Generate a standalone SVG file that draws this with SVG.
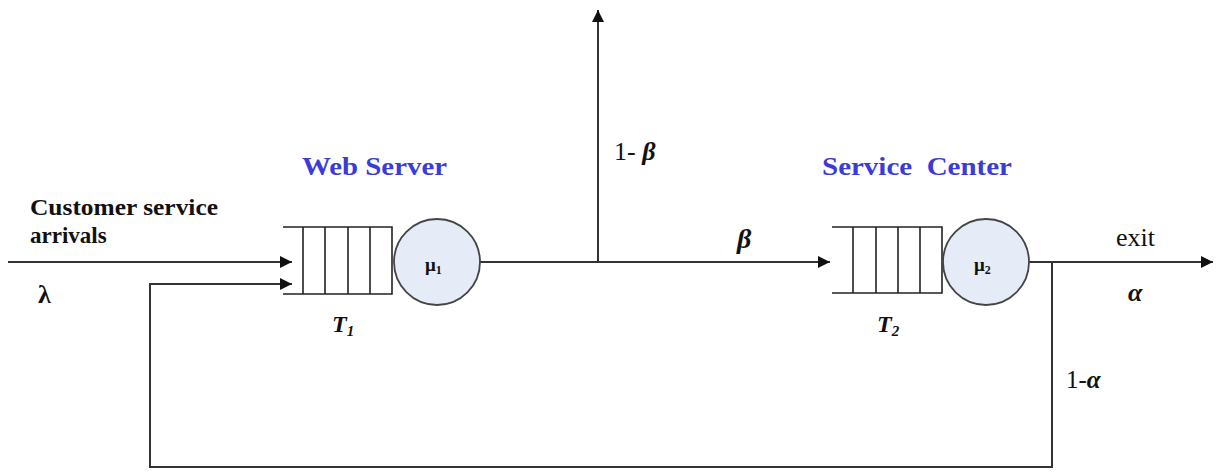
<svg xmlns="http://www.w3.org/2000/svg" width="1225" height="475" viewBox="0 0 1225 475">
<style>
.ln{stroke:#333;stroke-width:2;fill:none}
.q{stroke:#222;stroke-width:1.6;fill:none}
.srv{fill:#e6ecf7;stroke:#444;stroke-width:1.8}
.t{fill:#111;font-family:'Liberation Serif','DejaVu Serif',serif}
.b{font-weight:bold}
.blue{fill:#3b3bd8;font-weight:bold;font-family:'Liberation Serif','DejaVu Serif',serif}
.g{font-style:italic;font-weight:bold}
</style>
<defs>
<marker id="ah" viewBox="0 0 10 10" refX="10" refY="5" markerWidth="12" markerHeight="12" markerUnits="userSpaceOnUse" orient="auto">
<path d="M0,0 L10,5 L0,10 Z" fill="#111"/>
</marker>
</defs>
<rect width="1225" height="475" fill="#fff"/>
<g id="connectors">
<line class="ln" x1="8" y1="262" x2="292" y2="262" marker-end="url(#ah)"/>
<polyline class="ln" points="1052,262 1052,467 150,467 150,284 292,284" marker-end="url(#ah)"/>
<line class="ln" x1="480" y1="262" x2="830" y2="262" marker-end="url(#ah)"/>
<line class="ln" x1="598" y1="262" x2="598" y2="10" marker-end="url(#ah)"/>
<line class="ln" x1="1029" y1="262" x2="1213" y2="262" marker-end="url(#ah)"/>
</g>
<g id="webserver">
<path class="q" d="M283,227 H392 V294 H283 M303,227 V294 M325,227 V294 M348,227 V294 M370,227 V294"/>
<circle class="srv" cx="437" cy="262" r="43"/>
<text class="t b" x="425" y="271" font-size="19">μ<tspan font-size="12" dy="3">1</tspan></text>
<text class="blue" x="302" y="175" font-size="25" textLength="145" lengthAdjust="spacingAndGlyphs">Web Server</text>
<text class="t g" x="332" y="332" font-size="24">T<tspan font-size="15" dy="4">1</tspan></text>
</g>
<g id="servicecenter">
<path class="q" d="M832,227 H942 V293 H832 M853,227 V293 M876,227 V293 M898,227 V293 M920,227 V293"/>
<circle class="srv" cx="986" cy="262" r="43"/>
<text class="t b" x="974" y="271" font-size="19">μ<tspan font-size="12" dy="3">2</tspan></text>
<text class="blue" x="822" y="175" font-size="25" xml:space="preserve" textLength="190" lengthAdjust="spacingAndGlyphs">Service  Center</text>
<text class="t g" x="877" y="332" font-size="24">T<tspan font-size="15" dy="4">2</tspan></text>
</g>
<g id="labels">
<text class="t b" x="30" y="215" font-size="23" textLength="188" lengthAdjust="spacingAndGlyphs">Customer service</text>
<text class="t b" x="30" y="243" font-size="23">arrivals</text>
<text class="t b" x="38" y="303" font-size="26">λ</text>
<text class="t" x="614" y="160" font-size="26">1- <tspan class="g">β</tspan></text>
<text class="t g" x="737" y="248" font-size="28">β</text>
<text class="t" x="1116" y="246" font-size="26">exit</text>
<text class="t g" x="1128" y="301" font-size="26">α</text>
<text class="t" x="1066" y="388" font-size="25">1-<tspan class="g">α</tspan></text>
</g>
</svg>
